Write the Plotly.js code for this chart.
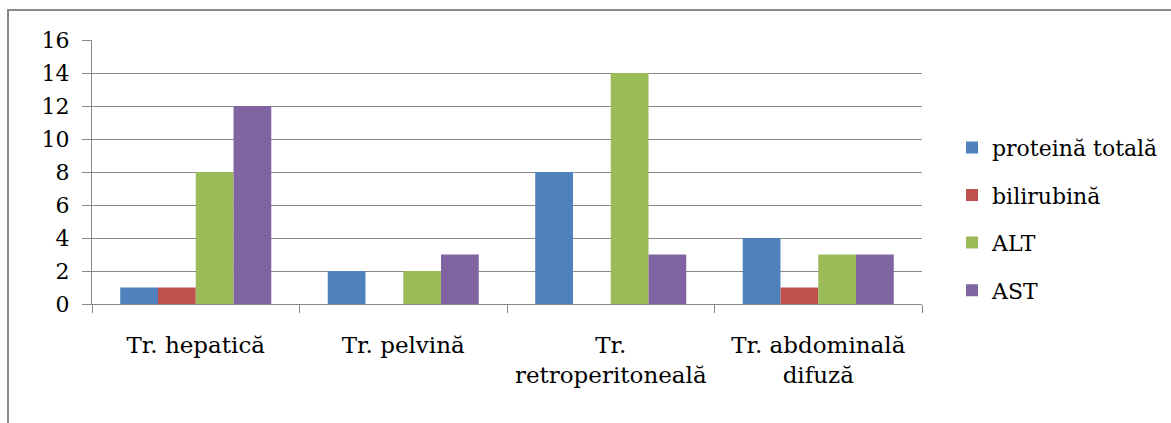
<!DOCTYPE html>
<html>
<head>
<meta charset="utf-8">
<script src="https://cdn.plot.ly/plotly-3.0.1.min.js"></script>
<style>
  html, body { margin: 0; padding: 0; background: #ffffff; }
  #chart { width: 1171px; height: 423px; }
</style>
</head>
<body>
<div id="chart"></div>
<script>
// Categories (trauma type) and the four laboratory series
const categories = ["Tr. hepatică", "Tr. pelvină", "Tr.<br>retroperitoneală", "Tr. abdominală<br>difuză"];
const seriesNames = ["proteină totală", "bilirubină", "ALT", "AST"];
const proteinaTotala = [1, 2, 8, 4];
const bilirubina = [1, 0, 0, 1];
const alt = [8, 2, 14, 3];
const ast = [12, 3, 3, 3];
const yTicks = [0, 2, 4, 6, 8, 10, 12, 14, 16];

const colors = ["#4F81BD", "#C0504D", "#9BBB59", "#8064A2"];
const values = [proteinaTotala, bilirubina, alt, ast];

const traces = values.map((v, i) => ({
  type: "bar",
  name: seriesNames[i],
  x: categories,
  y: v,
  marker: { color: colors[i], line: { width: 0 } },
  legendgroup: "g" + i,
  hoverinfo: "none"
}));

const gridColor = "#888888";
const serif = "DejaVu Serif";
const labelFont = { family: serif, size: 23, color: "#000000" };
const legendFont = { family: serif, size: 22, color: "#000000" };
const tickFont = { family: serif, size: 22, color: "#000000" };

const layout = {
  width: 1171,
  height: 423,
  margin: { l: 92, r: 249, t: 40, b: 119, pad: 0 },
  paper_bgcolor: "#ffffff",
  plot_bgcolor: "#ffffff",
  font: labelFont,
  barmode: "group",
  bargap: 0.272,
  bargroupgap: 0,
  showlegend: true,
  legend: {
    xref: "container",
    yref: "container",
    x: 0.813,
    xanchor: "left",
    y: 0.482,
    yanchor: "middle",
    traceorder: "grouped",
    tracegroupgap: 16,
    font: legendFont,
    bgcolor: "rgba(0,0,0,0)",
    borderwidth: 0
  },
  xaxis: {
    type: "category",
    showgrid: false,
    showline: true,
    linecolor: gridColor,
    linewidth: 1,
    ticks: "outside",
    tickson: "boundaries",
    ticklen: 8,
    tickcolor: gridColor,
    tickwidth: 1,
    ticklabelstandoff: 20,
    tickfont: labelFont,
    zeroline: false,
    fixedrange: true
  },
  yaxis: {
    range: [0, 16],
    tickvals: yTicks,
    ticktext: yTicks.map(String),
    showgrid: true,
    gridcolor: gridColor,
    gridwidth: 1,
    showline: true,
    linecolor: gridColor,
    linewidth: 1,
    ticks: "outside",
    ticklen: 9,
    tickcolor: gridColor,
    tickwidth: 1,
    ticklabelstandoff: 8,
    tickfont: tickFont,
    zeroline: false,
    fixedrange: true
  },
  shapes: [{
    // chart frame, running past the right and bottom edges of the page
    type: "rect",
    xref: "paper",
    yref: "paper",
    x0: (8 - 92) / 830,
    x1: (1190 - 92) / 830,
    y0: (304 - 440) / 264,
    y1: (304 - 10) / 264,
    line: { color: "#8a8a8a", width: 2 },
    fillcolor: "rgba(0,0,0,0)",
    layer: "below"
  }]
};

Plotly.newPlot("chart", traces, layout, { displayModeBar: false, staticPlot: true });
</script>
</body>
</html>
